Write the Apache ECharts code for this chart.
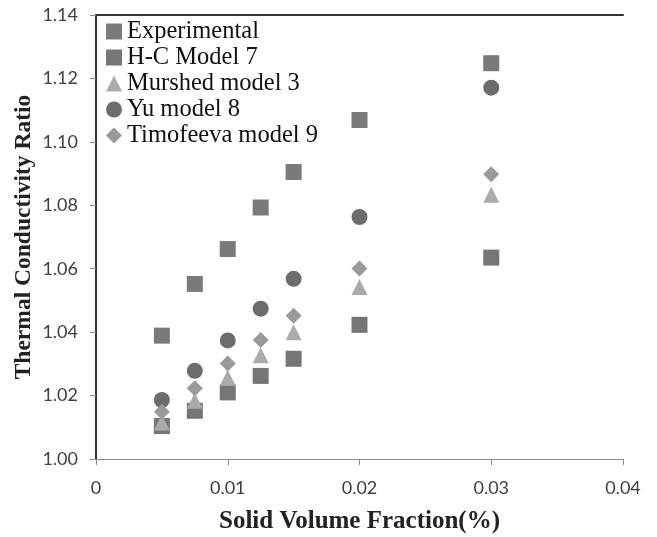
<!DOCTYPE html>
<html>
<head>
<meta charset="utf-8">
<script src="https://cdn.jsdelivr.net/npm/echarts@6/dist/echarts.min.js"></script>
<style>html,body{margin:0;padding:0;background:#fff}#c{width:657px;height:537px}</style>
</head>
<body>
<div id="c"></div>
<script>
const xValues = [0.005, 0.0075, 0.01, 0.0125, 0.015, 0.02, 0.03];
const experimental = [1.0389, 1.0552, 1.0662, 1.0793, 1.0905, 1.1069, 1.1248];
const hcModel7 = [1.0104, 1.0152, 1.0210, 1.0262, 1.0316, 1.0423, 1.0635];
const murshedModel3 = [1.0115, 1.0184, 1.0256, 1.0327, 1.0400, 1.0542, 1.0833];
const yuModel8 = [1.0186, 1.0278, 1.0374, 1.0474, 1.0568, 1.0763, 1.1171];
const timofeevaModel9 = [1.0149, 1.0223, 1.0301, 1.0375, 1.0452, 1.0601, 1.0898];
const xTickLabels = ['0', '0.01', '0.02', '0.03', '0.04'];
const yTickLabels = ['1.00','1.02','1.04','1.06','1.08','1.10','1.12','1.14'];
const seriesNames = ['Experimental', 'H-C Model 7', 'Murshed model 3', 'Yu model 8', 'Timofeeva model 9'];

const pairs = arr => xValues.map((x, i) => [x, arr[i]]);
const chart = echarts.init(document.getElementById('c'));
const specs = [
  {data: experimental, symbol: 'rect', color: '#7a7a7a', size: 16},
  {data: hcModel7, symbol: 'rect', color: '#767676', size: 16},
  {data: murshedModel3, symbol: 'triangle', color: '#ababab', size: 16},
  {data: yuModel8, symbol: 'circle', color: '#6c6c6c', size: 16},
  {data: timofeevaModel9, symbol: 'diamond', color: '#9a9a9a', size: 16}
];
const labelFont = {fontFamily: 'Lato', fontSize: 18, color: '#404040'};
chart.setOption({
  animation: false,
  backgroundColor: '#fff',
  grid: {left: 96, right: 34, top: 15, bottom: 78, outerBoundsMode: 'none', containLabel: false},
  legend: {
    left: 101, top: 14, orient: 'vertical',
    itemWidth: 16, itemHeight: 16, itemGap: 1,
    textStyle: {fontFamily: 'Liberation Serif', fontSize: 24.5, color: '#111'},
    data: seriesNames.map((n, i) => ({name: n, icon: specs[i].symbol}))
  },
  xAxis: [{
    type: 'value', min: 0, max: 0.04, interval: 0.01,
    name: 'Solid Volume Fraction(%)', nameLocation: 'middle', nameGap: 50,
    nameTextStyle: {fontFamily: 'Liberation Serif', fontWeight: 'bold', fontSize: 25, color: '#222'},
    axisLine: {lineStyle: {color: '#8a8a8a', width: 1}},
    axisTick: {show: true, length: 6, lineStyle: {color: '#8a8a8a'}},
    splitLine: {show: false},
    axisLabel: Object.assign({margin: 20, formatter: (v) => xTickLabels[Math.round(v / 0.01)]}, labelFont)
  }, {
    type: 'value', position: 'top', min: 0, max: 0.04,
    axisLine: {show: true, lineStyle: {color: '#333', width: 2}},
    axisTick: {show: false}, axisLabel: {show: false}, splitLine: {show: false}
  }],
  yAxis: [{
    type: 'value', min: 1.00, max: 1.14, interval: 0.02,
    name: 'Thermal Conductivity Ratio', nameLocation: 'middle', nameGap: 60, nameRotate: 90,
    nameMoveOverlap: false,
    nameTextStyle: {fontFamily: 'Liberation Serif', fontWeight: 'bold', fontSize: 23.5, color: '#222'},
    axisLine: {show: true, lineStyle: {color: '#8a8a8a', width: 1}},
    axisTick: {show: true, length: 6, lineStyle: {color: '#8a8a8a'}},
    splitLine: {show: false},
    axisLabel: Object.assign({margin: 18, formatter: (v) => yTickLabels[Math.round((v - 1) / 0.02)]}, labelFont)
  }, {
    type: 'value', position: 'right', min: 1.00, max: 1.14,
    axisLine: {show: true, lineStyle: {color: '#333', width: 2}},
    axisTick: {show: false}, axisLabel: {show: false}, splitLine: {show: false}
  }],
  series: specs.map((s, i) => ({
    name: seriesNames[i], type: 'scatter', symbol: s.symbol, symbolSize: s.size,
    itemStyle: {color: s.color, opacity: 1}, data: pairs(s.data)
  }))
});
</script>
</body>
</html>
